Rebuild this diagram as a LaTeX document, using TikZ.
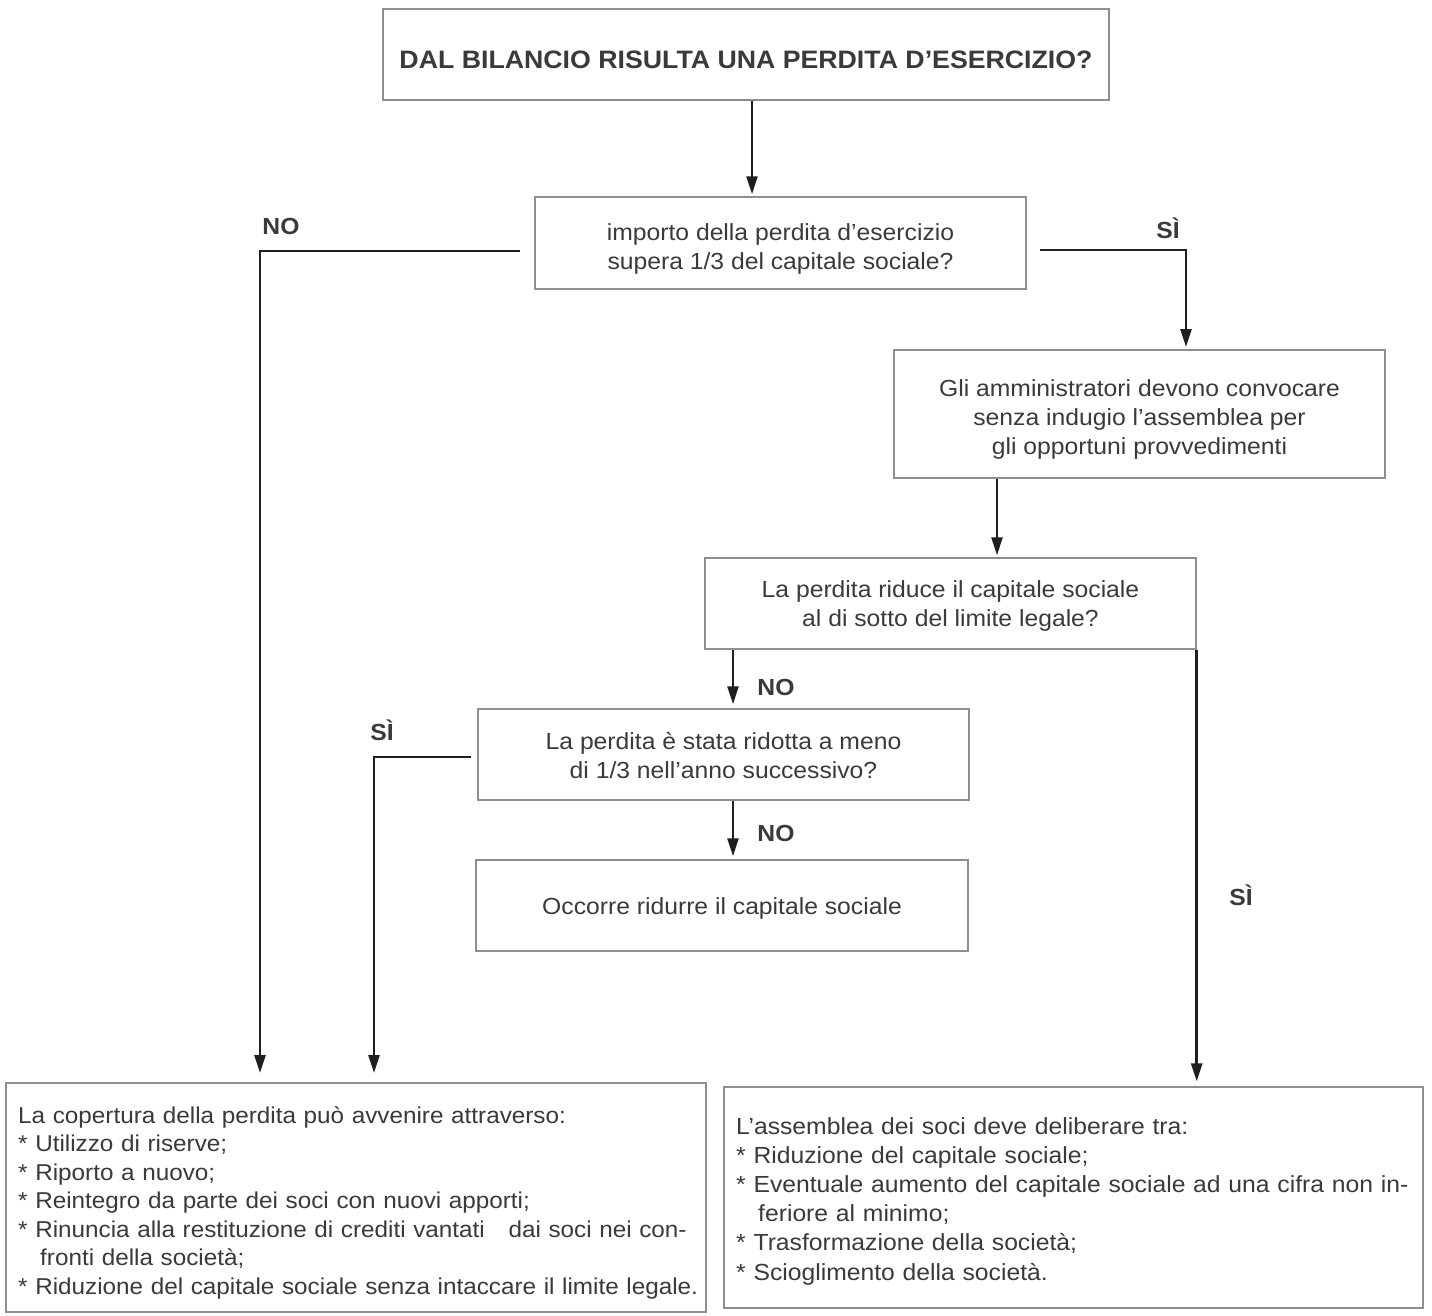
\documentclass[tikz,border=0pt]{standalone}
\usepackage{fontspec}
\setmainfont{Liberation Sans}[FakeStretch=1.06]
\usetikzlibrary{arrows.meta}
\definecolor{txt}{HTML}{3A3A3A}
\definecolor{boxc}{HTML}{8E8E8E}
\definecolor{lnc}{HTML}{1F1F1F}
\newcommand\bodyf{\fontsize{23.3}{29}\selectfont}
\newcommand\titlef{\fontsize{25.2}{30}\selectfont\bfseries}
\newcommand\labf{\fontsize{23.3}{28}\selectfont\bfseries}
\newcommand\listLf{\fontsize{22.9}{28.5}\selectfont}
\newcommand\listRf{\fontsize{23.3}{29.2}\selectfont}
\begin{document}
\begin{tikzpicture}[x=1pt,y=-1pt,
  box/.style={draw=boxc, line width=1.4pt, inner sep=0pt},
  btext/.style={text=txt, align=center, inner sep=0pt, font=\bodyf},
  conn/.style={draw=lnc, line width=2.5pt},
  arr/.style={conn, -{Triangle[length=18pt,width=11pt]}},
  lab/.style={text=txt, font=\labf, inner sep=0pt, anchor=base},
  list/.style={text=txt, inner sep=0pt, align=left, anchor=base west, text width=760pt}]
\fill[white] (0,0) rectangle (1432,1316);
\useasboundingbox (0,0) rectangle (1432,1316);

% boxes
\node[box, text=txt, font=\titlef, minimum width=726, minimum height=91, text height=28pt, text depth=0pt] (T) at (746,54.5) {DAL BILANCIO RISULTA UNA PERDITA D’ESERCIZIO?};
\node[box, minimum width=491, minimum height=92] (B2) at (780.5,243) {};
\node[box, minimum width=491, minimum height=128] (B3) at (1139.5,414) {};
\node[box, minimum width=491, minimum height=91] (B4) at (950.5,603.5) {};
\node[box, minimum width=491, minimum height=91] (B5) at (723.5,754.5) {};
\node[box, minimum width=492, minimum height=91] (B6) at (722,905.5) {};
\node[box, minimum width=700, minimum height=229] (BL) at (356,1197.5) {};
\node[box, minimum width=699, minimum height=221] (BR) at (1073.5,1197.5) {};

% box texts
\node[btext] (B2t) at ([yshift=-6pt]B2.center) {importo della perdita d’esercizio\\supera 1/3 del capitale sociale?};
\node[btext] (B3t) at ([yshift=-5pt]B3.center) {Gli amministratori devono convocare\\senza indugio l’assemblea per\\gli opportuni provvedimenti};
\node[btext] (B4t) at ([yshift=-2.5pt]B4.center) {La perdita riduce il capitale sociale\\al di sotto del limite legale?};
\node[btext] (B5t) at ([yshift=-1pt]B5.center) {La perdita è stata ridotta a meno\\di 1/3 nell’anno successivo?};
\node[btext] (B6t) at ([yshift=-3pt]B6.center) {Occorre ridurre il capitale sociale};

\node[list, font=\listLf] (BLt) at (18,1123) {La copertura della perdita può avvenire attraverso:\\
{*} Utilizzo di riserve;\\
{*} Riporto a nuovo;\\
{*} Reintegro da parte dei soci con nuovi apporti;\\
{*} Rinuncia alla restituzione di crediti vantati\hspace{16pt} dai soci nei con-\\
\hspace*{22pt}fronti della società;\\
{*} Riduzione del capitale sociale senza intaccare il limite legale.};
\node[list, font=\listRf] (BRt) at (736,1134) {L’assemblea dei soci deve deliberare tra:\\
{*} Riduzione del capitale sociale;\\
{*} Eventuale aumento del capitale sociale ad una cifra non in-\\
\hspace*{22pt}feriore al minimo;\\
{*} Trasformazione della società;\\
{*} Scioglimento della società.};

% connectors
\coordinate (xa) at (752,0);
\coordinate (xb) at (997,0);
\coordinate (xc) at (733,0);
\coordinate (n1s) at (520,251);
\coordinate (n1e) at (260,1073);
\coordinate (s1s) at (1040,250);
\coordinate (s1e) at (1186,347);
\coordinate (s2s) at (471,757);
\coordinate (s2e) at (374,1073);

\draw[arr, shorten >=2pt] (T.south -| xa) -- (B2.north -| xa);
\draw[arr] (n1s) -| (n1e);
\draw[arr] (s1s) -| (s1e);
\draw[arr, shorten >=2pt] (B3.south -| xb) -- (B4.north -| xb);
\draw[arr, shorten >=4pt] (B4.south -| xc) -- (B5.north -| xc);
\draw[arr, shorten >=3pt] (B5.south -| xc) -- (B6.north -| xc);
\draw[arr, shorten >=5pt] (B4.south east) -- (B4.south east |- BR.north);
\draw[arr] (s2s) -| (s2e);

% labels
\node[lab] (lno1) at (281,234) {NO};
\node[lab] (lsi1) at (1168,239) {SÌ};
\node[lab] (lno2) at (776,695) {NO};
\node[lab] (lsi2) at (382,740) {SÌ};
\node[lab] (lno3) at (776,841) {NO};
\node[lab] (lsi3) at (1241,905) {SÌ};
\end{tikzpicture}
\end{document}
